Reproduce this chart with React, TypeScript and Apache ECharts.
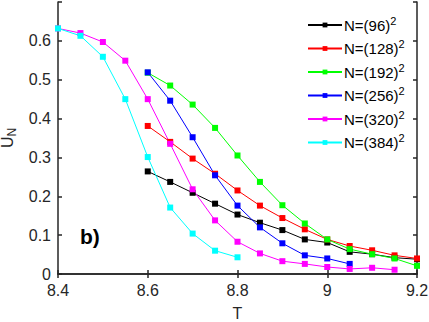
import React, { useEffect, useRef } from "react";
import * as echarts from "echarts";

const T = [8.4, 8.45, 8.5, 8.55, 8.6, 8.65, 8.7, 8.75, 8.8, 8.85, 8.9, 8.95, 9.0, 9.05, 9.1, 9.15, 9.2];

const N96 = [null, null, null, null, 0.264, 0.237, 0.209, 0.181, 0.153, 0.132, 0.113, 0.089, 0.081, 0.057, 0.051, 0.042, 0.038];
const N128 = [null, null, null, null, 0.381, 0.340, 0.297, 0.258, 0.215, 0.176, 0.144, 0.115, 0.089, 0.072, 0.061, 0.048, 0.040];
const N192 = [null, null, null, null, 0.518, 0.485, 0.436, 0.376, 0.305, 0.237, 0.177, 0.130, 0.089, 0.064, 0.051, 0.040, 0.021];
const N256 = [null, null, null, null, 0.519, 0.446, 0.352, 0.254, 0.176, 0.120, 0.079, 0.048, 0.040, 0.026, null, null, null];
const N320 = [0.632, 0.620, 0.597, 0.549, 0.450, 0.335, 0.218, 0.138, 0.083, 0.053, 0.033, 0.026, 0.018, 0.013, 0.016, 0.011, null];
const N384 = [0.632, 0.613, 0.559, 0.450, 0.301, 0.171, 0.104, 0.060, 0.043, null, null, null, null, null, null, null, null];

const seriesNames = ["N=(96)", "N=(128)", "N=(192)", "N=(256)", "N=(320)", "N=(384)"];
const seriesData = [N96, N128, N192, N256, N320, N384];
const colors = ["#000000", "#ff0000", "#00ff00", "#0000ff", "#ff00ff", "#00ffff"];

const xTicks = [8.4, 8.6, 8.8, 9.0, 9.2];

const FONT = "Liberation Sans, Arial, Helvetica, sans-serif";
const AXIS_COLOR = "#262626";

export default function App() {
  const ref = useRef<HTMLDivElement>(null);
  useEffect(() => {
    document.body.style.margin = "0";
    const chart = echarts.init(ref.current!, null, { renderer: "svg" });
    const series = seriesNames.map((name, i) => ({
      name,
      type: "line",
      data: seriesData[i].map((v, j) => [T[j], v]),
      connectNulls: false,
      symbol: "rect",
      symbolSize: 6,
      showSymbol: true,
      color: colors[i],
      lineStyle: { width: 1, color: colors[i] },
      itemStyle: { color: colors[i] },
      xAxisIndex: 0,
      yAxisIndex: 0,
    }));
    const axisLine = { show: true, lineStyle: { color: AXIS_COLOR, width: 1.5 } };
    const axisTick = { show: true, inside: true, length: 4, lineStyle: { color: AXIS_COLOR, width: 1.5 } };
    chart.setOption({
      animation: false,
      backgroundColor: "#ffffff",
      grid: { left: 58, right: 12, top: 2, bottom: 48, containLabel: false, outerBoundsMode: "none" },
      xAxis: [
        {
          type: "value",
          min: 8.4,
          max: 9.2,
          interval: 0.2,
          name: "T",
          nameLocation: "middle",
          nameGap: 31,
          nameTextStyle: { fontFamily: FONT, fontSize: 16, color: AXIS_COLOR },
          axisLine,
          axisTick,
          splitLine: { show: false },
          axisLabel: {
            fontFamily: FONT,
            fontSize: 16,
            color: AXIS_COLOR,
            margin: 8,
            customValues: xTicks,
            formatter: (v: number) => String(+v.toFixed(1)),
          },
        },
        {
          type: "value",
          position: "top",
          min: 8.4,
          max: 9.2,
          interval: 0.2,
          axisLine,
          axisTick,
          axisLabel: { show: false },
          splitLine: { show: false },
        },
      ],
      yAxis: [
        {
          type: "value",
          min: 0,
          max: 0.7,
          interval: 0.1,
          name: "{u|U}{s|N}",
          nameLocation: "middle",
          nameGap: 40,
          nameRotate: 90,
          nameTextStyle: {
            fontFamily: FONT,
            color: AXIS_COLOR,
            rich: {
              u: { fontFamily: FONT, fontSize: 16, color: AXIS_COLOR, lineHeight: 20 },
              s: { fontFamily: FONT, fontSize: 12, color: AXIS_COLOR, verticalAlign: "bottom" },
            },
          },
          axisLine,
          axisTick,
          splitLine: { show: false },
          axisLabel: {
            fontFamily: FONT,
            fontSize: 16,
            color: AXIS_COLOR,
            margin: 7,
            formatter: (v: number) => (v > 0.65 ? "" : String(+v.toFixed(1))),
          },
        },
        {
          type: "value",
          position: "right",
          min: 0,
          max: 0.7,
          interval: 0.1,
          axisLine,
          axisTick,
          axisLabel: { show: false },
          splitLine: { show: false },
        },
      ],
      legend: {
        orient: "vertical",
        left: 302,
        top: 10,
        itemWidth: 34,
        itemHeight: 6,
        itemGap: 6,
        data: seriesNames,
        formatter: (name: string) => `{t|${name}}{p|2}`,
        textStyle: {
          fontFamily: FONT,
          color: "#000",
          padding: [0, 0, 0, -3],
          rich: {
            t: { fontFamily: FONT, fontSize: 15, color: "#000", lineHeight: 20 },
            p: { fontFamily: FONT, fontSize: 11, color: "#000", verticalAlign: "top" },
          },
        },
      },
      graphic: [
        {
          type: "text",
          left: 80,
          top: 226,
          style: { text: "b)", font: `bold 21px ${FONT}`, fill: "#000" },
        },
      ],
      series,
    });
    return () => chart.dispose();
  }, []);
  return <div ref={ref} style={{ width: 429, height: 322, position: "absolute", left: 0, top: 0 }} />;
}
